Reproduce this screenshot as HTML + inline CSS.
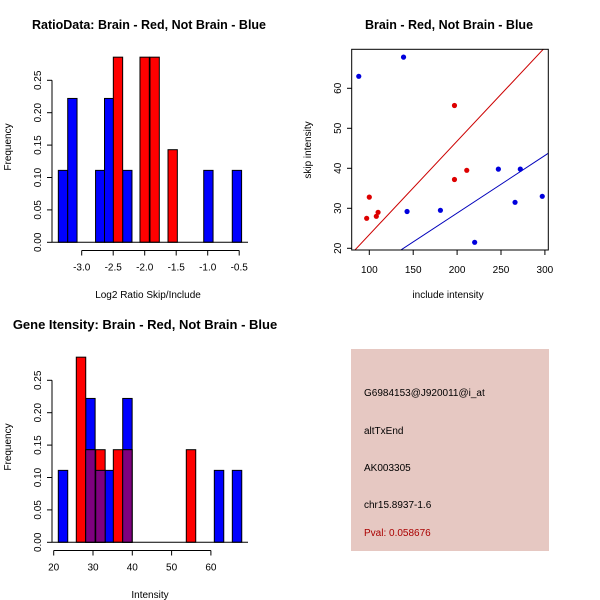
<!DOCTYPE html>
<html><head><meta charset="utf-8"><style>
html,body{margin:0;padding:0;background:#fff;}
svg{display:block;font-family:"Liberation Sans",Arial,sans-serif;}
</style></head><body>
<svg id="c" width="600" height="600" viewBox="0 0 600 600">
<rect width="600" height="600" fill="#fff"/>
<text x="149" y="29" font-size="12.5" font-weight="bold" text-anchor="middle">RatioData: Brain - Red, Not Brain - Blue</text>
<text x="449" y="29" font-size="12.5" font-weight="bold" text-anchor="middle">Brain - Red, Not Brain - Blue</text>
<text x="145" y="329" font-size="13" font-weight="bold" text-anchor="middle">Gene Itensity: Brain - Red, Not Brain - Blue</text>
<text x="148" y="298" font-size="10" text-anchor="middle">Log2 Ratio Skip/Include</text>
<text x="448" y="298" font-size="10" text-anchor="middle">include intensity</text>
<text x="150" y="598" font-size="10" text-anchor="middle">Intensity</text>
<text transform="translate(11,147) rotate(-90)" font-size="10" text-anchor="middle">Frequency</text>
<text transform="translate(311,150) rotate(-90)" font-size="10" text-anchor="middle">skip intensity</text>
<text transform="translate(11,447) rotate(-90)" font-size="10" text-anchor="middle">Frequency</text>
<g id="g1"></g><g id="g2"></g><g id="g3"></g>
<rect x="351" y="349" width="198" height="202" fill="#e6c8c2"/>
<g font-size="10">
<text x="364" y="396">G6984153@J920011@i_at</text>
<text x="364" y="434">altTxEnd</text>
<text x="364" y="471">AK003305</text>
<text x="364" y="508">chr15.8937-1.6</text>
<text x="364" y="536" fill="#aa0000">Pval: 0.058676</text>
</g>
</svg>
<script>
// Ratio histogram data: bin left edges (log2 ratio), frequencies
const ratioBinWidth = 0.148;
const ratioBlueLefts = [-3.371, -3.222, -2.78, -2.638, -2.35, -1.063, -0.61];
const ratioBlueFreq = [0.111, 0.222, 0.111, 0.222, 0.111, 0.111, 0.111];
const ratioRedLefts = [-2.498, -2.075, -1.916, -1.63];
const ratioRedFreq = [0.2857, 0.2857, 0.2857, 0.1429];
const ratioXTicks = [-3.0, -2.5, -2.0, -1.5, -1.0, -0.5];
const freqTicks = [0, 0.05, 0.10, 0.15, 0.20, 0.25];
const freqTickLabels = ["0.00","0.05","0.10","0.15","0.20","0.25"];
// Scatter data
const redInclude = [97, 100, 108, 110, 197, 197, 211];
const redSkip = [27.5, 32.8, 28, 29, 37.2, 55.7, 39.5];
const blueInclude = [88, 139, 143, 181, 220, 247, 266, 272, 297];
const blueSkip = [63, 67.8, 29.2, 29.5, 21.5, 39.8, 31.5, 39.8, 33];
const redSlope = [0.234];
const blueSlope = [0.144];
const scatterXTicks = [100, 150, 200, 250, 300];
const scatterYTicks = [20, 30, 40, 50, 60];
// Gene intensity histogram
const geneBinWidth = 2.4;
const geneBlueLefts = [21.17, 28.14, 30.69, 32.88, 37.56, 60.87, 65.45];
const geneBlueFreq = [0.111, 0.222, 0.111, 0.111, 0.222, 0.111, 0.111];
const geneRedLefts = [25.75, 28.14, 30.69, 35.17, 37.56, 53.74];
const geneRedFreq = [0.2857, 0.1429, 0.1429, 0.1429, 0.1429, 0.1429];
const geneXTicks = [20, 30, 40, 50, 60];

const NS = "http://www.w3.org/2000/svg";
function mk(parent, tag, attrs){const e=document.createElementNS(NS,tag);for(const k in attrs)e.setAttribute(k,attrs[k]);parent.appendChild(e);return e;}

function freqAxis(g, y, x0, name){
  mk(g,'line',{x1:x0,x2:x0,y1:y(0),y2:y(0.25),stroke:'#000'});
  freqTicks.forEach((t,i)=>{
    mk(g,'line',{x1:x0-5,x2:x0,y1:y(t),y2:y(t),stroke:'#000'});
    const tx=mk(g,'text',{transform:`translate(${x0-11},${y(t)}) rotate(-90)`,'font-size':10,'text-anchor':'middle'});
    tx.textContent=freqTickLabels[i];
    
    
  });
}
function xAxis(g, x, ticks, ya, name){
  mk(g,'line',{x1:x(ticks[0]),x2:x(ticks[ticks.length-1]),y1:ya,y2:ya,stroke:'#000'});
  ticks.forEach(t=>{
    mk(g,'line',{x1:x(t),x2:x(t),y1:ya,y2:ya+5,stroke:'#000'});
    const tx=mk(g,'text',{x:x(t),y:ya+20,'font-size':10,'text-anchor':'middle'});
    tx.textContent=(t<0?'-':'')+(Number.isInteger(t)&&name!=='ratio'?Math.abs(t):Math.abs(t).toFixed(1));
    
    
  });
}
function bars(g,x,y,lefts,freqs,w,fill,name){
  lefts.forEach((l,i)=>{
    const r=mk(g,'rect',{x:x(l),y:y(freqs[i]),width:x(l+w)-x(l),height:y(0)-y(freqs[i]),fill:fill,stroke:'#000','stroke-width':1});
    
    
  });
}

// Panel 1
(function(){
  const g=document.getElementById('g1');
  const x=v=>81.7+(v+3)*63, y=v=>242.3-v*648;
  bars(g,x,y,ratioBlueLefts,ratioBlueFreq,ratioBinWidth,'#0000ff','ratio-bar-not-brain');
  bars(g,x,y,ratioRedLefts,ratioRedFreq,ratioBinWidth,'#ff0000','ratio-bar-brain');
  mk(g,'line',{x1:52,x2:248,y1:242.3,y2:242.3,stroke:'#000'});
  freqAxis(g,y,52,'ratio-y');
  xAxis(g,x,ratioXTicks,250.5,'ratio');
})();

// Panel 2
(function(){
  const g=document.getElementById('g2');
  const x=v=>369.3+(v-100)*0.878, y=v=>248.3-(v-20)*4;
  const cp=mk(g,'clipPath',{id:'cp'});mk(cp,'rect',{x:351.7,y:49.3,width:196.6,height:200.7});
  const lg=mk(g,'g',{'clip-path':'url(#cp)'});
  const l1=mk(lg,'line',{x1:x(50),y1:y(redSlope[0]*50),x2:x(350),y2:y(redSlope[0]*350),stroke:'#cc0000','stroke-width':1});
  
  
  const l2=mk(lg,'line',{x1:x(50),y1:y(blueSlope[0]*50),x2:x(350),y2:y(blueSlope[0]*350),stroke:'#0000bb','stroke-width':1});
  
  
  redInclude.forEach((v,i)=>{const c=mk(g,'circle',{cx:x(v),cy:y(redSkip[i]),r:2.6,fill:'#dd0000'});
    
    });
  blueInclude.forEach((v,i)=>{const c=mk(g,'circle',{cx:x(v),cy:y(blueSkip[i]),r:2.6,fill:'#0000dd'});
    
    });
  const box=mk(g,'rect',{x:351.7,y:49.3,width:196.6,height:200.7,fill:'none',stroke:'#000'});
  
  
  scatterXTicks.forEach(t=>{mk(g,'line',{x1:x(t),x2:x(t),y1:250,y2:255,stroke:'#000'});
    const tx=mk(g,'text',{x:x(t),y:273,'font-size':10,'text-anchor':'middle'});tx.textContent=t;
    
    });
  scatterYTicks.forEach(t=>{mk(g,'line',{x1:347,x2:351.7,y1:y(t),y2:y(t),stroke:'#000'});
    const tx=mk(g,'text',{transform:`translate(${341},${y(t)}) rotate(-90)`,'font-size':10,'text-anchor':'middle'});tx.textContent=t;
    
    });
})();

// Panel 3
(function(){
  const g=document.getElementById('g3');
  const x=v=>53.7+(v-20)*3.93, y=v=>542.3-v*648;
  bars(g,x,y,geneBlueLefts,geneBlueFreq,geneBinWidth,'#0000ff','gene-bar-not-brain');
  bars(g,x,y,geneRedLefts,geneRedFreq,geneBinWidth,'#ff0000','gene-bar-brain');
  geneRedLefts.forEach((l,i)=>{
    const j=geneBlueLefts.findIndex(b=>Math.abs(b-l)<0.3);
    if(j<0)return;
    const f=Math.min(geneRedFreq[i],geneBlueFreq[j]);
    const r=mk(g,'rect',{x:x(l),y:y(f),width:x(l+geneBinWidth)-x(l),height:y(0)-y(f),fill:'#7f007f',stroke:'#000'});
    
    
  });
  mk(g,'line',{x1:52,x2:248,y1:542.3,y2:542.3,stroke:'#000'});
  freqAxis(g,y,52,'gene-y');
  xAxis(g,x,geneXTicks,550.5,'gene');
})();
</script>
</body></html>
